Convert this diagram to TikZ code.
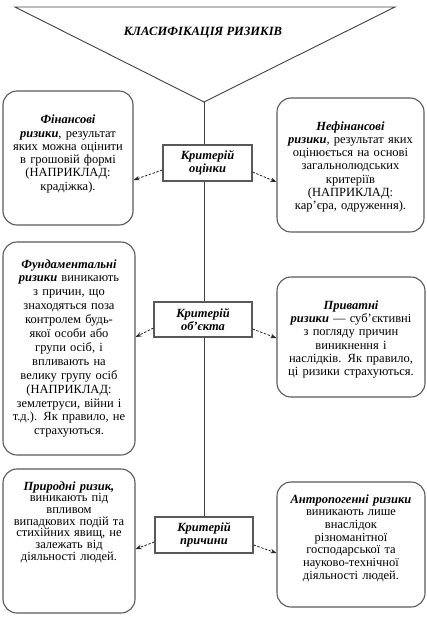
\documentclass[tikz,border=0pt]{standalone}
\usepackage{fontspec}
\setmainfont{Liberation Serif}
\usetikzlibrary{calc,arrows.meta}
\begin{document}
\begin{tikzpicture}[x=1pt,y=-1pt,
  rbox/.style={draw=black!65,line width=1.1pt,rounded corners=14pt,inner sep=0pt},
  cbox/.style={draw=black!65,line width=1.1pt,fill=white,inner sep=0pt,align=center,
     font=\fontsize{12.5}{13}\selectfont\bfseries\itshape},
  btext/.style={align=center,inner sep=0pt,text width=150pt,
     font=\fontsize{12.5}{13.3}\selectfont},
  conn/.style={draw=black!75,line width=0.8pt},
  arr/.style={draw=black!85,line width=0.8pt,dashed,dash pattern=on 2.5pt off 1.5pt,-{Stealth[length=6pt,width=4.5pt]}}
]
\useasboundingbox (0,0) rectangle (427,621);
% triangle
\coordinate (tl) at (15,7);
\coordinate (tr) at (395,7);
\coordinate (apex) at (204,102);
\draw[conn,line width=0.9pt] (tl) -- (tr) -- (apex) -- cycle;
\node[font=\fontsize{12.6}{14}\selectfont\bfseries\itshape] (title) at (203,33) {КЛАСИФІКАЦІЯ РИЗИКІВ};
% criterion boxes
\node[cbox,minimum width=89pt,minimum height=36pt] (c1) at (207.5,163) {Критерій\\оцінки};
\node[cbox,minimum width=98pt,minimum height=35pt] (c2) at (203,319.5) {Критерій\\об’єкта};
\node[cbox,minimum width=98pt,minimum height=36pt] (c3) at (204,535) {Критерій\\причини};
\draw[conn] (apex) -- (apex |- c1.north);
\draw[conn] (apex |- c1.south) -- (apex |- c2.north);
\draw[conn] (apex |- c2.south) -- (apex |- c3.north);
% side boxes
\node[rbox,minimum width=130pt,minimum height=134pt] (l1) at (68,158) {};
\node[rbox,minimum width=147pt,minimum height=134pt] (r1) at (350.5,165) {};
\node[rbox,minimum width=132pt,minimum height=213pt] (l2) at (69,348.5) {};
\node[rbox,minimum width=148pt,minimum height=120pt] (r2) at (351,337) {};
\node[rbox,minimum width=132pt,minimum height=144pt] (l3) at (69,541) {};
\node[rbox,minimum width=148pt,minimum height=125pt] (r3) at (351,544.5) {};
% texts
\node[btext] (l1t) at (68,154) {\textbf{\textit{Фінансові}}\\\textbf{\textit{ризики}}, результат\\яких можна оцінити\\в грошовій формі\\(НАПРИКЛАД:\\крадіжка).};
\node[btext] (r1t) at (350.5,167) {\textbf{\textit{Нефінансові}}\\\textbf{\textit{ризики}}, результат яких\\оцінюється на основі\\загальнолюдських\\критеріїв\\(НАПРИКЛАД:\\кар’єра, одруження).};
\node[btext,font=\fontsize{12.5}{13.9}\selectfont] (l2t) at (69,348.5) {\textbf{\textit{Фундаментальні}}\\\textbf{\textit{ризики}} виникають\\з причин, що\\знаходяться поза\\контролем будь-\\якої особи або\\групи осіб, і\\впливають на\\велику групу осіб\\(НАПРИКЛАД:\\землетруси, війни і\\т.д.). Як правило, не\\страхуються.};
\node[btext] (r2t) at (351,339.5) {\textbf{\textit{Приватні}}\\\textbf{\textit{ризики}} — суб’єктивні\\з погляду причин\\виникнення і\\наслідків. Як правило,\\ці ризики страхуються.};
\node[btext,font=\fontsize{12.5}{11.7}\selectfont] (l3t) at (69,522) {\textbf{\textit{Природні ризик,}}\\виникають під\\впливом\\випадкових подій та\\стихійних явищ, не\\залежать від\\діяльності людей.};
\node[btext,font=\fontsize{12.5}{12.7}\selectfont] (r3t) at (351,538) {\textbf{\textit{Антропогенні ризики}}\\виникають лише\\внаслідок\\різноманітної\\господарської та\\науково-технічної\\діяльності людей.};
% arrows
\draw[arr] ($(c1.west)+(0,7)$) -- ($(l1.east)+(0,22)$);
\draw[arr] ($(c1.east)+(0,9)$) -- ($(r1.west)+(0,17)$);
\draw[arr] ($(c2.west)+(0,8.5)$) -- ($(l2.east)+(0,-11.5)$);
\draw[arr] ($(c2.east)+(0,9.5)$) -- ($(r2.west)+(0,1)$);
\draw[arr] ($(c3.west)+(0,7)$) -- ($(l3.east)+(0,8)$);
\draw[arr] ($(c3.east)+(0,10)$) -- ($(r3.west)+(0,8.5)$);
\end{tikzpicture}
\end{document}
